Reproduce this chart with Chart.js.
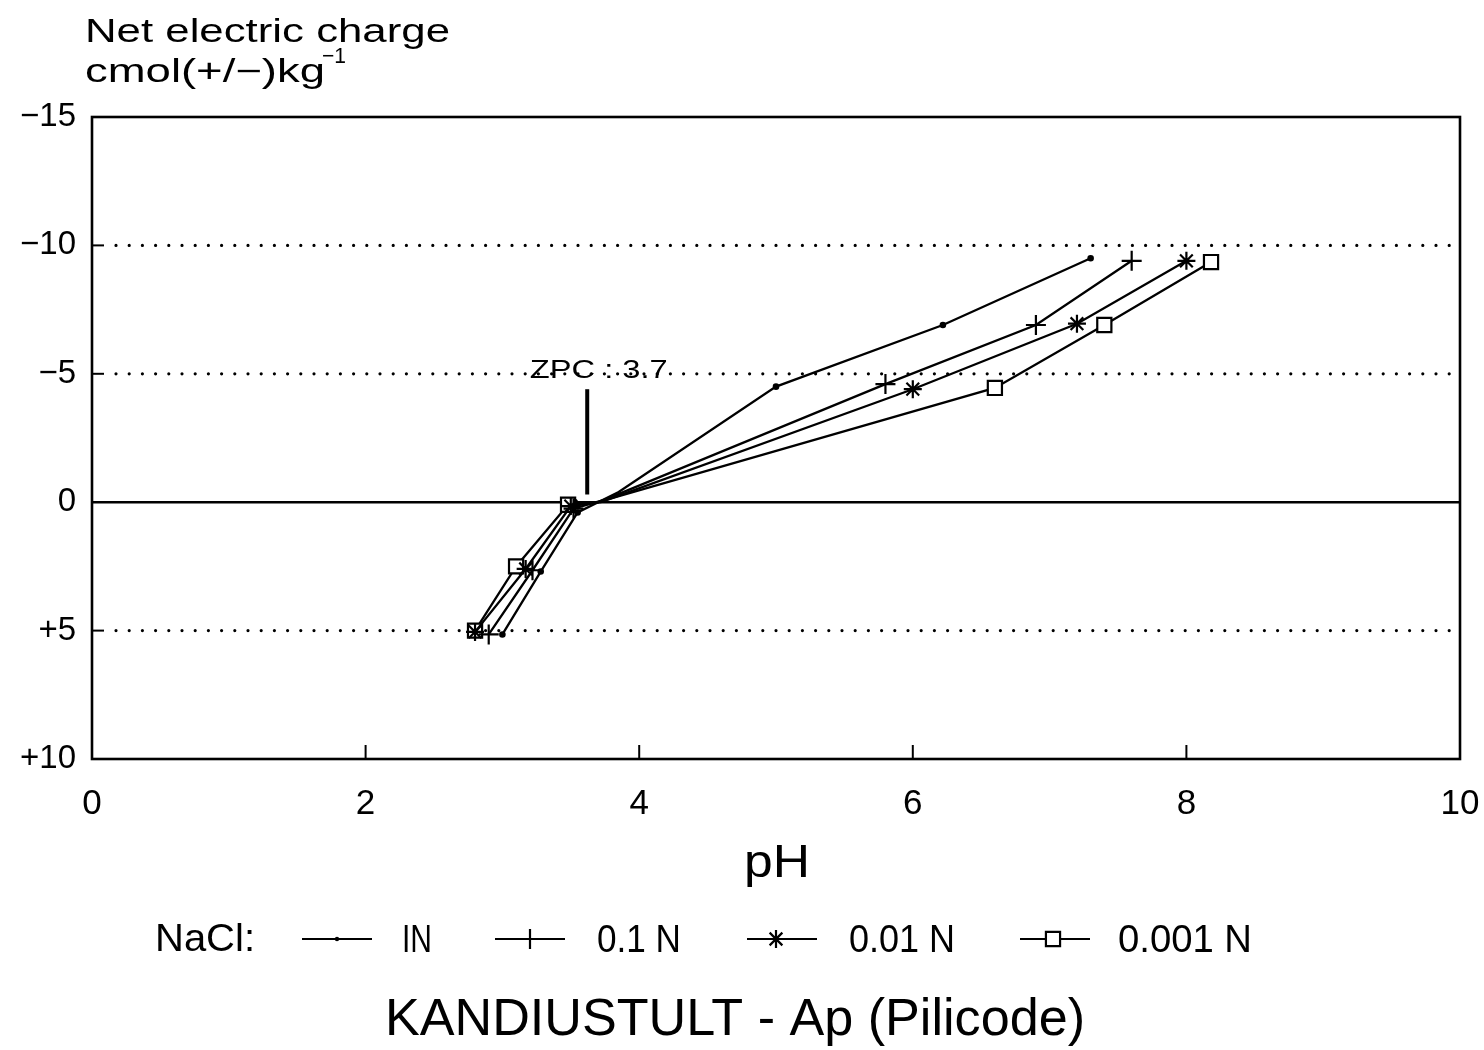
<!DOCTYPE html>
<html>
<head>
<meta charset="utf-8">
<title>Net electric charge - pH</title>
<script src="https://cdn.jsdelivr.net/npm/chart.js@4"></script>
<style>
  body { margin: 0; padding: 0; background: #fff; }
  #wrap { position: relative; width: 1484px; height: 1050px; }
</style>
</head>
<body>
<div id="wrap"><canvas id="chart"></canvas></div>
<script>
// pH / net charge pairs for each NaCl concentration
const phIN       = [3.00, 3.28, 3.55, 3.85, 5.00, 6.22, 7.30];
const chargeIN   = [5.15, 2.70, 0.40, -0.40, -4.50, -6.90, -9.50];
const ph01       = [2.90, 3.22, 3.52, 3.75, 5.80, 6.90, 7.60];
const charge01   = [5.15, 2.65, 0.25, -0.10, -4.60, -6.90, -9.40];
const ph001      = [2.80, 3.17, 3.50, 3.72, 6.00, 7.20, 8.00];
const charge001  = [5.05, 2.60, 0.15, 0.00, -4.40, -6.95, -9.40];
const ph0001     = [2.80, 3.10, 3.48, 3.70, 6.60, 7.40, 8.18];
const charge0001 = [5.00, 2.50, 0.10, 0.00, -4.45, -6.90, -9.35];

const seriesNames = ['IN', '0.1 N', '0.01 N', '0.001 N'];
const xTicks = [0, 2, 4, 6, 8, 10];
const yTicks = [-15, -10, -5, 0, 5, 10];
const dottedLevels = [-10, -5, 5];
const zpcPh = 3.62;
const zpcText = 'ZPC : 3.7';

const FONT = '"Liberation Sans", Arial, sans-serif';

function pts(xs, ys) { return xs.map((x, i) => ({ x: x, y: ys[i] })); }
// the 4th point of each run is only a bend in the line, no symbol
function radii(r) { return phIN.map((_, i) => i === 3 ? 0 : r); }

// write text squeezed or stretched to a given width
function fitText(ctx, text, x, y, w, size, family) {
  ctx.save();
  ctx.font = size + 'px ' + (family || FONT);
  ctx.textBaseline = 'middle';
  ctx.textAlign = 'left';
  const m = ctx.measureText(text).width;
  ctx.translate(x, y);
  ctx.scale(w / m, 1);
  ctx.fillText(text, 0, 0);
  ctx.restore();
}

function drawMarker(ctx, style, x, y, r) {
  ctx.save();
  ctx.strokeStyle = '#000';
  ctx.fillStyle = '#000';
  ctx.lineWidth = 2.2;
  ctx.beginPath();
  if (style === 'circle') {
    ctx.arc(x, y, r, 0, Math.PI * 2);
    ctx.fill();
  } else if (style === 'cross') {
    ctx.moveTo(x - r, y); ctx.lineTo(x + r, y);
    ctx.moveTo(x, y - r); ctx.lineTo(x, y + r);
    ctx.stroke();
  } else if (style === 'star') {
    const d = r * Math.SQRT1_2;
    ctx.moveTo(x - r, y); ctx.lineTo(x + r, y);
    ctx.moveTo(x, y - r); ctx.lineTo(x, y + r);
    ctx.moveTo(x - d, y - d); ctx.lineTo(x + d, y + d);
    ctx.moveTo(x - d, y + d); ctx.lineTo(x + d, y - d);
    ctx.stroke();
  } else if (style === 'rect') {
    const s = r * Math.SQRT1_2;
    ctx.fillStyle = '#fff';
    ctx.rect(x - s, y - s, 2 * s, 2 * s);
    ctx.fill();
    ctx.stroke();
  }
  ctx.restore();
}

const frame = {
  id: 'frame',
  beforeDatasetsDraw(chart) {
    const ctx = chart.ctx;
    const a = chart.chartArea;
    const xs = chart.scales.x, ys = chart.scales.y;
    ctx.save();
    ctx.strokeStyle = '#000';

    // dotted reference lines
    dottedLevels.forEach(v => {
      const y = ys.getPixelForValue(v);
      ctx.setLineDash([]);
      ctx.lineWidth = 2;
      ctx.beginPath();
      ctx.moveTo(a.left, y); ctx.lineTo(a.left + 12, y);
      ctx.stroke();
      ctx.lineWidth = 3.2;
      ctx.lineCap = 'round';
      ctx.setLineDash([0, 13.2]);
      ctx.beginPath();
      ctx.moveTo(a.left + 24, y); ctx.lineTo(a.right, y);
      ctx.stroke();
      ctx.lineCap = 'butt';
    });
    ctx.setLineDash([]);

    // zero line
    const y0 = ys.getPixelForValue(0);
    ctx.lineWidth = 2.4;
    ctx.beginPath();
    ctx.moveTo(a.left, y0); ctx.lineTo(a.right, y0);
    ctx.stroke();

    // plot frame
    ctx.lineWidth = 2.6;
    ctx.strokeRect(a.left, a.top, a.right - a.left, a.bottom - a.top);

    // tick marks on the pH axis
    ctx.lineWidth = 2;
    [2, 4, 6, 8].forEach(v => {
      const x = xs.getPixelForValue(v);
      ctx.beginPath();
      ctx.moveTo(x, a.bottom); ctx.lineTo(x, a.bottom - 14);
      ctx.stroke();
    });

    // zero point of charge marker
    const xz = xs.getPixelForValue(zpcPh);
    ctx.lineWidth = 4;
    ctx.beginPath();
    ctx.moveTo(xz, ys.getPixelForValue(-4.4));
    ctx.lineTo(xz, ys.getPixelForValue(-0.3));
    ctx.stroke();
    ctx.fillStyle = '#000';
    fitText(ctx, zpcText, xs.getPixelForValue(3.2), ys.getPixelForValue(-5.1), 138, 25);
    ctx.restore();
  },
  afterDraw(chart) {
    const ctx = chart.ctx;
    ctx.save();
    ctx.fillStyle = '#000';
    ctx.strokeStyle = '#000';

    // y axis title
    fitText(ctx, 'Net electric charge', 85, 33, 365, 33);
    fitText(ctx, 'cmol(+/\u2212)kg', 85, 73, 240, 33);
    fitText(ctx, '\u22121', 322, 57, 24, 22);

    // x axis title
    fitText(ctx, 'pH', 744, 864, 66, 46);

    // legend
    fitText(ctx, 'NaCl:', 155, 940, 100, 39);
    const legend = [
      { x1: 302, x2: 372, mx: 337, style: 'circle', r: 2.2, tx: 402, tw: 30 },
      { x1: 495, x2: 565, mx: 530, style: 'cross', r: 10, tx: 597, tw: 84 },
      { x1: 747, x2: 817, mx: 776, style: 'star', r: 9, tx: 849, tw: 106 },
      { x1: 1020, x2: 1090, mx: 1053, style: 'rect', r: 10, tx: 1118, tw: 134 }
    ];
    legend.forEach((l, i) => {
      ctx.lineWidth = 2;
      ctx.beginPath();
      ctx.moveTo(l.x1, 939); ctx.lineTo(l.x2, 939);
      ctx.stroke();
      drawMarker(ctx, l.style, l.mx, 939, l.r);
      fitText(ctx, seriesNames[i], l.tx, 941, l.tw, 39);
    });

    // caption
    fitText(ctx, 'KANDIUSTULT - Ap (Pilicode)', 385, 1021, 700, 52);
    ctx.restore();
  }
};

const common = {
  showLine: true,
  borderColor: '#000',
  backgroundColor: '#000',
  borderWidth: 2.3,
  pointBorderColor: '#000',
  pointBorderWidth: 2.2,
  tension: 0
};

new Chart(document.getElementById('chart'), {
  type: 'scatter',
  data: {
    datasets: [
      Object.assign({}, common, { label: seriesNames[0], data: pts(phIN, chargeIN),
        pointStyle: 'circle', pointRadius: radii(2.2), pointBackgroundColor: '#000' }),
      Object.assign({}, common, { label: seriesNames[1], data: pts(ph01, charge01),
        pointStyle: 'cross', pointRadius: radii(10) }),
      Object.assign({}, common, { label: seriesNames[2], data: pts(ph001, charge001),
        pointStyle: 'star', pointRadius: radii(9) }),
      Object.assign({}, common, { label: seriesNames[3], data: pts(ph0001, charge0001),
        pointStyle: 'rect', pointRadius: radii(10), pointBackgroundColor: '#fff' })
    ]
  },
  options: {
    responsive: true,
    maintainAspectRatio: false,
    animation: false,
    layout: { padding: { top: 117, right: 0, left: 0, bottom: 0 } },
    plugins: {
      legend: { display: false },
      tooltip: { enabled: false }
    },
    scales: {
      x: {
        type: 'linear',
        min: 0, max: 10,
        afterFit(scale) {
          scale.height = 291;
          scale.paddingLeft = 0;
          scale.paddingRight = 24;
        },
        afterBuildTicks(scale) { scale.ticks = xTicks.map(v => ({ value: v })); },
        grid: { display: false, drawTicks: false },
        border: { display: false },
        ticks: { color: '#000', padding: 24, font: { family: FONT, size: 35 } }
      },
      y: {
        type: 'linear',
        reverse: true,
        min: -15, max: 10,
        afterFit(scale) { scale.width = 92; },
        afterBuildTicks(scale) { scale.ticks = yTicks.map(v => ({ value: v })); },
        grid: { display: false, drawTicks: false },
        border: { display: false },
        ticks: {
          color: '#000', padding: 16,
          font: { family: FONT, size: 33 },
          callback: v => v < 0 ? '\u2212' + Math.abs(v) : (v > 0 ? '+' + v : '0')
        }
      }
    }
  },
  plugins: [frame]
});
</script>
</body>
</html>
